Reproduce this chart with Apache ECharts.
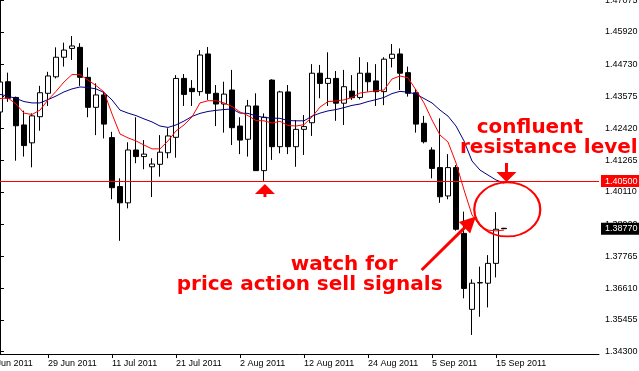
<!DOCTYPE html>
<html><head><meta charset="utf-8">
<script src="https://cdn.jsdelivr.net/npm/echarts@6/dist/echarts.min.js"></script>
<style>html,body{margin:0;padding:0;background:#fff;overflow:hidden}#c{width:639px;height:371px}</style>
</head><body><div id="c"></div>
<script>
// Daily bars, 21 Jun 2011 .. 16 Sep 2011 (index 0..63)
const barDates = ['21 Jun','22 Jun','23 Jun','24 Jun','27 Jun','28 Jun','29 Jun','30 Jun','1 Jul','4 Jul','5 Jul','6 Jul','7 Jul','8 Jul','11 Jul','12 Jul','13 Jul','14 Jul','15 Jul','18 Jul','19 Jul','20 Jul','21 Jul','22 Jul','25 Jul','26 Jul','27 Jul','28 Jul','29 Jul','1 Aug','2 Aug','3 Aug','4 Aug','5 Aug','8 Aug','9 Aug','10 Aug','11 Aug','12 Aug','15 Aug','16 Aug','17 Aug','18 Aug','19 Aug','22 Aug','23 Aug','24 Aug','25 Aug','26 Aug','29 Aug','30 Aug','31 Aug','1 Sep','2 Sep','5 Sep','6 Sep','7 Sep','8 Sep','9 Sep','12 Sep','13 Sep','14 Sep','15 Sep','16 Sep'];
const openP  = [1.4301,1.4411,1.4354,1.4254,1.4189,1.4284,1.4369,1.4429,1.4500,1.4532,1.4536,1.4427,1.4318,1.4363,1.4208,1.4030,1.3971,1.4163,1.4139,1.4102,1.4111,1.4153,1.4209,1.4423,1.4387,1.4375,1.4512,1.4369,1.4330,1.4381,1.4250,1.4202,1.4323,1.4088,1.4417,1.4175,1.4374,1.4175,1.4238,1.4262,1.4442,1.4405,1.4423,1.4333,1.4377,1.4354,1.4442,1.4414,1.4375,1.4496,1.4512,1.4444,1.4371,1.4260,1.4163,1.4099,1.3996,1.4099,1.3860,1.3584,1.3681,1.3679,1.3751,1.38785];
const closeP = [1.4410,1.4351,1.4251,1.4179,1.4287,1.4371,1.4432,1.4500,1.4526,1.4541,1.4427,1.4318,1.4363,1.4257,1.4026,1.3971,1.4163,1.4139,1.4148,1.4112,1.4155,1.4214,1.4423,1.4365,1.4375,1.4508,1.4369,1.4330,1.4366,1.4244,1.4199,1.4323,1.4088,1.4282,1.4175,1.4374,1.4175,1.4238,1.4248,1.4442,1.4405,1.4423,1.4333,1.4393,1.4353,1.4442,1.4411,1.4375,1.4493,1.4511,1.4442,1.4369,1.4257,1.4193,1.4096,1.3993,1.4099,1.3875,1.3660,1.3679,1.3680,1.3751,1.3875,1.3877];
const lowP   = [1.4297,1.4338,1.4124,1.4139,1.4100,1.4233,1.4323,1.4423,1.4466,1.4490,1.4396,1.4282,1.4217,1.4205,1.3984,1.3833,1.3951,1.4115,1.4093,1.3992,1.4066,1.4133,1.4135,1.4323,1.4323,1.4360,1.4345,1.4250,1.4226,1.4181,1.4148,1.4139,1.4087,1.4051,1.4127,1.4151,1.4148,1.4102,1.4145,1.4214,1.4351,1.4323,1.4269,1.4254,1.4345,1.4347,1.4375,1.4323,1.4326,1.4463,1.4381,1.4357,1.4226,1.4187,1.4060,1.3971,1.3984,1.3870,1.3624,1.3491,1.3557,1.3591,1.3700,1.3876];
const highP  = [1.4421,1.4444,1.4357,1.4306,1.4296,1.4396,1.4447,1.4536,1.4553,1.4577,1.4551,1.4463,1.4405,1.4375,1.4229,1.4060,1.4191,1.4282,1.4199,1.4133,1.4217,1.4242,1.4435,1.4439,1.4417,1.4526,1.4537,1.4399,1.4411,1.4454,1.4282,1.4345,1.4369,1.4296,1.4420,1.4378,1.4399,1.4272,1.4290,1.4475,1.4472,1.4518,1.4450,1.4454,1.4435,1.4500,1.4482,1.4475,1.4500,1.4548,1.4532,1.4466,1.4384,1.4287,1.4173,1.4278,1.4148,1.4108,1.3939,1.3693,1.3739,1.3781,1.3937,1.3880];
// moving averages, starting at bar index -1 (20 Jun)
const maStart = -1;
const maRed  = [1.4348,1.4350,1.4352,1.4330,1.4297,1.4292,1.4308,1.4345,1.4376,1.4410,1.4437,1.4437,1.4417,1.4397,1.4374,1.4294,1.4221,1.4207,1.4196,1.4181,1.4167,1.4167,1.4196,1.4232,1.4254,1.4283,1.4334,1.4342,1.4342,1.4334,1.4321,1.4301,1.4288,1.4270,1.4269,1.4261,1.4267,1.4252,1.4250,1.4255,1.4283,1.4319,1.4339,1.4341,1.4345,1.4354,1.4370,1.4374,1.4378,1.4381,1.4421,1.4432,1.4425,1.4381,1.4334,1.4272,1.4217,1.4192,1.4116,1.4018,1.3927,1.3887,1.3872,1.3869,1.3872];
const maNavy = [1.4368,1.4365,1.4359,1.4350,1.4339,1.4334,1.4334,1.4346,1.4359,1.4374,1.4385,1.4392,1.4390,1.4385,1.4372,1.4345,1.4308,1.4297,1.4288,1.4276,1.4265,1.4250,1.4245,1.4254,1.4268,1.4285,1.4296,1.4303,1.4307,1.4310,1.4312,1.4297,1.4296,1.4287,1.4281,1.4279,1.4278,1.4270,1.4269,1.4269,1.4286,1.4297,1.4305,1.4310,1.4317,1.4325,1.4330,1.4339,1.4346,1.4354,1.4368,1.4376,1.4373,1.4366,1.4350,1.4334,1.4308,1.4286,1.4250,1.4196,1.4123,1.4090,1.4072,1.4054,1.4043];
// axis ticks
const xTickIdx = [-2,6,14,22,30,38,46,54,62];
const xTickLabels = ['17 Jun 2011','29 Jun 2011','11 Jul 2011','21 Jul 2011','2 Aug 2011','12 Aug 2011','24 Aug 2011','5 Sep 2011','15 Sep 2011'];
const yTickValues = [1.34300,1.35455,1.36610,1.37765,1.38920,1.40110,1.41265,1.42420,1.43575,1.44730,1.45920,1.47075];
const levelPrice = 1.40500;
const lastPrice = 1.38770;
// annotations (bar index, price)
const upArrow = [33.12, 1.4016];
const downArrow = [63.31, 1.4081];
const ellipseAt = [63.41, 1.3947];
const bigArrowFrom = [52.71, 1.3727];
const bigArrowTo = [58.78, 1.3901];
const notes = [
  {text:'confluent', at:[59.59, 1.42175]},
  {text:'resistance level', at:[57.5, 1.41448]},
  {text:'watch for', at:[36.34, 1.37207]},
  {text:'price action sell signals', at:[22.09, 1.36481]}
];

const FONT = '"Liberation Sans", Arial, sans-serif';
const X_MIN = -2, X_MAX = 74.875;
const candles = barDates.map((d,i)=>[i, openP[i], closeP[i], lowP[i], highP[i]]);
const red = maRed.map((v,i)=>[i+maStart, v]);
const navy = maNavy.map((v,i)=>[i+maStart, v]);
const boxLabel = (txt, bg) => ({show:true, position:'end', distance:2, formatter:txt, color:'#fff', backgroundColor:bg, padding:[2,4,1,4], fontSize:9, fontFamily:FONT});

const chart = echarts.init(document.getElementById('c'), null, {renderer:'canvas'});
chart.setOption({
  animation:false,
  backgroundColor:'#ffffff',
  grid:{left:-16, right:40, top:0, bottom:17, containLabel:false, outerBoundsMode:'none'},
  xAxis:{type:'value', min:X_MIN, max:X_MAX,
    axisLine:{show:true, lineStyle:{color:'#000', width:1}},
    splitLine:{show:false},
    axisTick:{show:true, customValues:xTickIdx, length:4, lineStyle:{color:'#000'}},
    axisLabel:{show:true, customValues:xTickIdx, align:'left', margin:5, color:'#000', fontSize:9, fontFamily:FONT,
      formatter:(v)=>{const k=xTickIdx.indexOf(Math.round(v)); return k>=0?xTickLabels[k]:'';}}
  },
  yAxis:{type:'value', position:'right', min:1.34217, max:1.4708, scale:true,
    axisLine:{show:true, lineStyle:{color:'#000', width:1}},
    splitLine:{show:false},
    axisTick:{show:true, customValues:yTickValues, length:4, lineStyle:{color:'#000'}},
    axisLabel:{show:true, customValues:yTickValues, margin:6, color:'#000', fontSize:9, fontFamily:FONT,
      formatter:(v)=>v.toFixed(5)}
  },
  series:[
    {type:'candlestick', data:candles, barWidth:5, z:2,
      itemStyle:{color:'#ffffff', color0:'#000000', borderColor:'#000000', borderColor0:'#000000', borderWidth:1}
    },
    {type:'line', data:navy, symbol:'none', z:4, lineStyle:{color:'#000080', width:1}},
    {type:'line', data:red, symbol:'none', z:5, lineStyle:{color:'#ff0000', width:1}},
    {type:'scatter', data:[], z:10,
      markPoint:{silent:true, label:{show:false},
        data:[
          {coord:upArrow, symbol:'path://M10,0L20,10L11.5,10L11.5,13L8.5,13L8.5,10L0,10Z', symbolSize:[20,13], itemStyle:{color:'#ff0000'}},
          {coord:downArrow, symbol:'path://M8.5,0L11.5,0L11.5,9L20,9L10,19L0,9L8.5,9Z', symbolSize:[20,19], itemStyle:{color:'#ff0000'}},
          {coord:ellipseAt, symbol:'path://M0,50A50,50,0,1,1,100,50A50,50,0,1,1,0,50Z', symbolSize:[66,54], itemStyle:{color:'rgba(0,0,0,0)', borderColor:'#ff0000', borderWidth:2}}
        ]}
    },
    {type:'scatter', data:[], z:9,
      markLine:{silent:true, symbol:['none','none'], label:boxLabel(levelPrice.toFixed(5), '#ff0000'),
        lineStyle:{color:'#ff0000', width:1, type:'solid'},
        data:[[{coord:[X_MIN, levelPrice]},{coord:[X_MAX, levelPrice]}]]}
    },
    {type:'scatter', data:[], z:9,
      markLine:{silent:true, symbol:['none','none'], label:boxLabel(lastPrice.toFixed(5), '#000000'),
        lineStyle:{color:'rgba(0,0,0,0)', width:1},
        data:[[{coord:[X_MIN, lastPrice]},{coord:[X_MAX, lastPrice]}]]}
    },
    {type:'scatter', data:[], z:11,
      markLine:{silent:true, symbol:['none','triangle'], symbolSize:16, label:{show:false},
        lineStyle:{color:'#ff0000', width:3, type:'solid'},
        itemStyle:{color:'#ff0000'},
        data:[[{coord:bigArrowFrom},{coord:bigArrowTo}]]}
    }
  ]
});
const g = notes.map(n=>{
  const p = chart.convertToPixel({gridIndex:0}, n.at);
  return {type:'text', x:p[0], y:p[1]-7, z:20, silent:true,
    style:{text:n.text, fill:'#ff0000', font:'bold 20px "DejaVu Sans", sans-serif', textAlign:'left', textVerticalAlign:'middle'}};
});
chart.setOption({graphic:g});
</script></body></html>
